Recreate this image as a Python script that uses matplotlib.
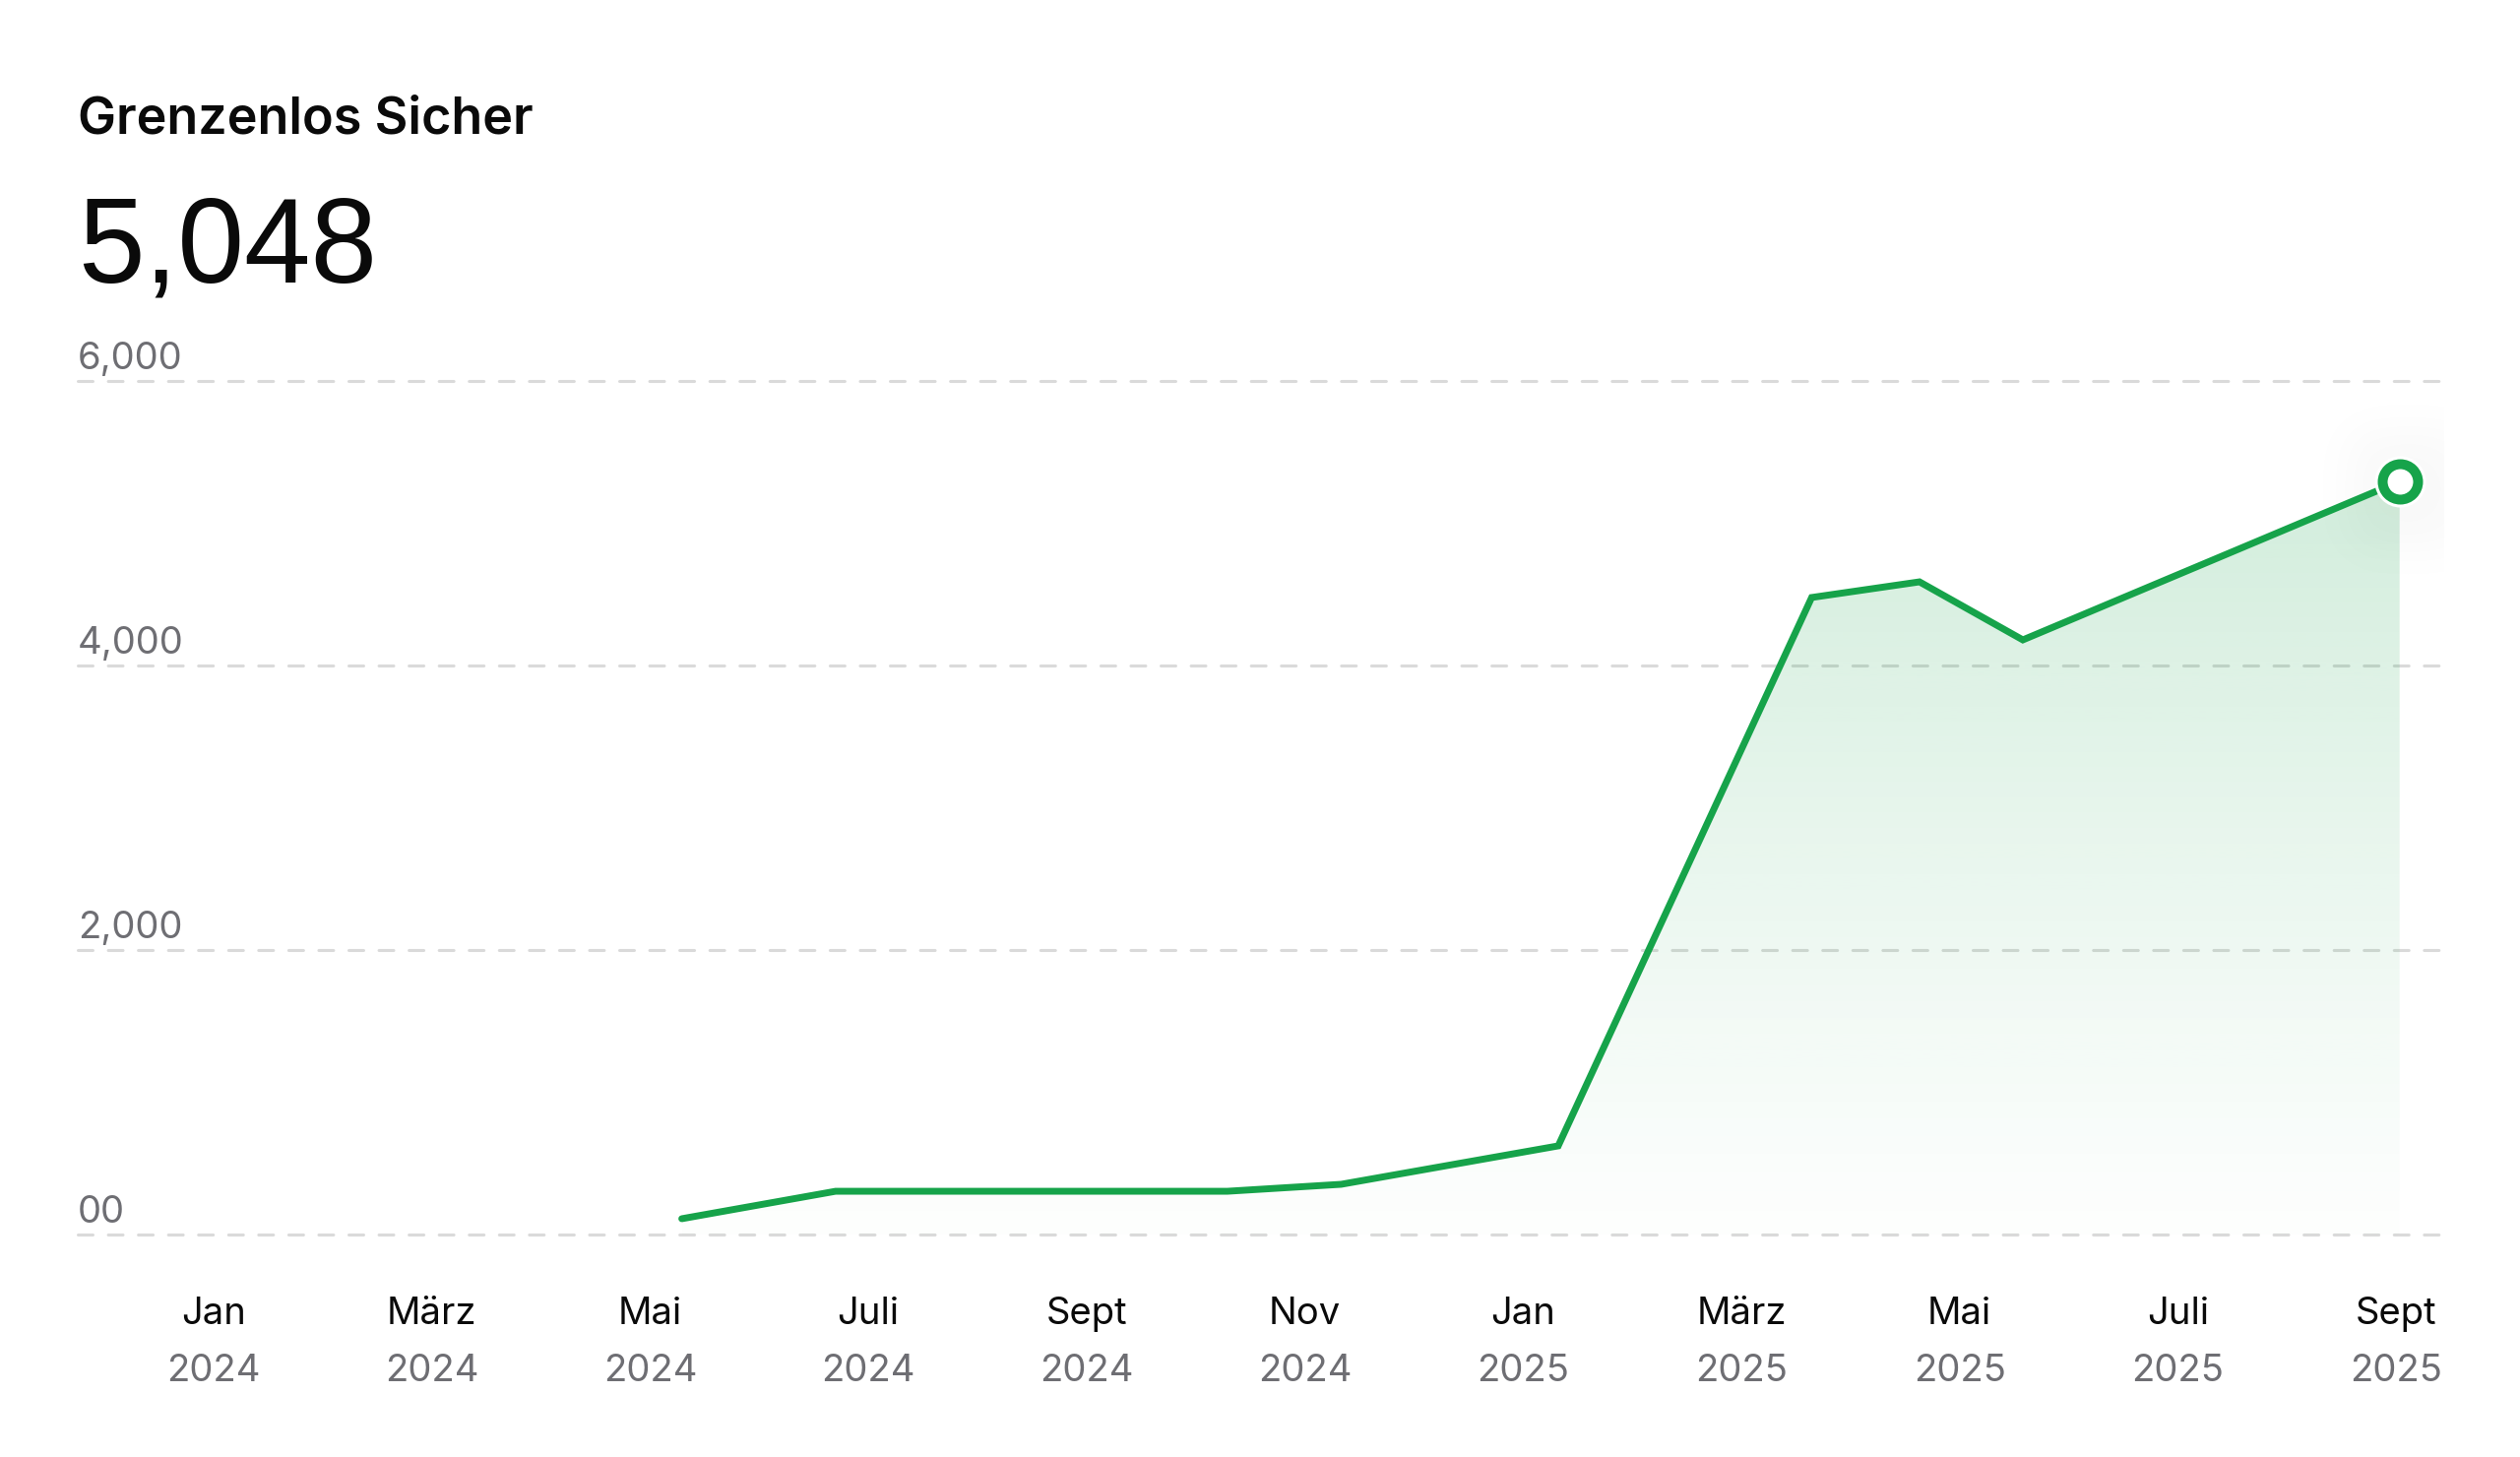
import calendar
import numpy as np
import matplotlib
matplotlib.use("Agg")
import matplotlib.pyplot as plt
from matplotlib.transforms import blended_transform_factory

# ---------------- data ----------------
title = "Grenzenlos Sicher"
headline = "5,048"

dates = ["2024-05-10", "2024-06-22", "2024-10-10", "2024-11-11", "2025-01-11",
         "2025-03-21", "2025-04-20", "2025-05-19", "2025-09-02"]
values = [111, 304, 304, 353, 623, 4478, 4588, 4180, 5294]

tick_dates = ["2024-01-01", "2024-03-01", "2024-05-01", "2024-07-01", "2024-09-01",
              "2024-11-01", "2025-01-01", "2025-03-01", "2025-05-01", "2025-07-01",
              "2025-09-01"]
tick_months = ["Jan", "März", "Mai", "Juli", "Sept", "Nov",
               "Jan", "März", "Mai", "Juli", "Sept"]
tick_years = ["2024", "2024", "2024", "2024", "2024", "2024",
              "2025", "2025", "2025", "2025", "2025"]

y_ticks = [0, 2000, 4000, 6000]
y_labels = ["00", "2,000", "4,000", "6,000"]

# ---------------- style ----------------
FONT = ["Inter", "DejaVu Sans"]
plt.rcParams["font.family"] = FONT
GREEN = "#16a34a"
GRID = "#dadada"
GRAY = "#6e6e73"
BLACK = "#0a0a0a"

W, H = 2560, 1480
fig = plt.figure(figsize=(W / 100, H / 100), dpi=100)
fig.patch.set_facecolor("white")

left_px, right_px, top_px, bottom_px = 79, 2482, 387, 1254
ax = fig.add_axes([left_px / W, 1 - bottom_px / H,
                   (right_px - left_px) / W, (bottom_px - top_px) / H])
ax.axis("off")


def mnum(s):
    """month-based position: months since Jan 2024 (uniform month width)"""
    yy, mm, dd = (int(p) for p in s.split("-"))
    ndays = calendar.monthrange(yy, mm)[1]
    return (yy - 2024) * 12 + (mm - 1) + (dd - 1) / ndays


x = np.array([mnum(d) for d in dates])
y = np.array(values, dtype=float)
tx = [mnum(d) for d in tick_dates]

# x scale: first tick at 217 px, last at 2434 px
ppu = (2434 - 217) / (tx[-1] - tx[0])
xlim = (tx[0] - (217 - left_px) / ppu, tx[0] + (right_px - 217) / ppu)

# gradient fill under the line
poly = ax.fill_between(x, y, 0, color="none", lw=0)
path = poly.get_paths()[0]
g = np.linspace(0, 1, 256).reshape(-1, 1)
rgba = np.zeros((256, 1, 4))
rgba[..., :3] = matplotlib.colors.to_rgb(GREEN)
rgba[..., 3] = 0.008 + 0.185 * g ** 1.1
img = ax.imshow(rgba, extent=[x[0], x[-1], 0, y.max()], origin="lower",
                aspect="auto", zorder=2, interpolation="bilinear")
img.set_clip_path(path, ax.transData)

ax.set_xlim(*xlim)
ax.set_ylim(0, 6000)

# grid lines
lw_grid = 2.2
for v in y_ticks:
    ax.axhline(v, color=GRID, lw=lw_grid, linestyle=(0, (4.9, 5.1)),
               dash_capstyle="round", clip_on=False, zorder=1)

# y labels
ylab_trans = blended_transform_factory(ax.transAxes, ax.transData)
for v, lab in zip(y_ticks, y_labels):
    ax.annotate(lab, (0, v), xycoords=ylab_trans, xytext=(0, 12 / 1.389),
                textcoords="offset points", ha="left", va="baseline",
                fontsize=27.5, color=GRAY, annotation_clip=False)

# x labels
xt = blended_transform_factory(ax.transData, fig.transFigure)
for d, m, yr in zip(tx, tick_months, tick_years):
    ax.text(d, 1 - 1345 / H, m, transform=xt, ha="center", va="baseline",
            fontsize=27.5, color=BLACK, clip_on=False)
    ax.text(d, 1 - 1403 / H, yr, transform=xt, ha="center", va="baseline",
            fontsize=27.5, color=GRAY, clip_on=False)

# soft shadow around the end marker
px, py = ax.transData.transform((x[-1], y[-1]))
cx, cy = px + 8, py - 8
half = 110
n = 220
u = np.linspace(-half, half, n)
U, V = np.meshgrid(u, u)
s = lambda t: 1 / (1 + np.exp((np.abs(t) - 60) / 15))
sh = np.zeros((n, n, 4))
sh[..., 3] = 0.028 * s(U) * s(V)
inv = ax.transData.inverted()
(x0, y0) = inv.transform((cx - half, cy - half))
(x1, y1) = inv.transform((cx + half, cy + half))
ax.imshow(sh, extent=[x0, x1, y0, y1], origin="lower", aspect="auto",
          zorder=2.5, interpolation="bilinear")
ax.set_xlim(*xlim)
ax.set_ylim(0, 6000)

# line
ax.plot(x, y, color=GREEN, lw=5.0, solid_capstyle="round",
        solid_joinstyle="miter", zorder=4, clip_on=False)

# end marker
ax.plot([x[-1]], [y[-1]], marker="o", ms=37.5, mfc="white", mec="none",
        zorder=5, clip_on=False)
ax.plot([x[-1]], [y[-1]], marker="o", ms=25.9, mfc="white", mec=GREEN,
        mew=7.2, zorder=6, clip_on=False)

# header texts
fig.text(left_px / W, 1 - 135 / H, title, fontsize=37.5, fontweight="semibold",
         color=BLACK, ha="left", va="baseline")
fig.text(left_px / W, 1 - 286 / H, headline, fontsize=87.5, fontweight="normal",
         color=BLACK, ha="left", va="baseline",
         family=["Liberation Sans", "DejaVu Sans"])

fig.savefig("out.png", dpi=100, facecolor="white")
